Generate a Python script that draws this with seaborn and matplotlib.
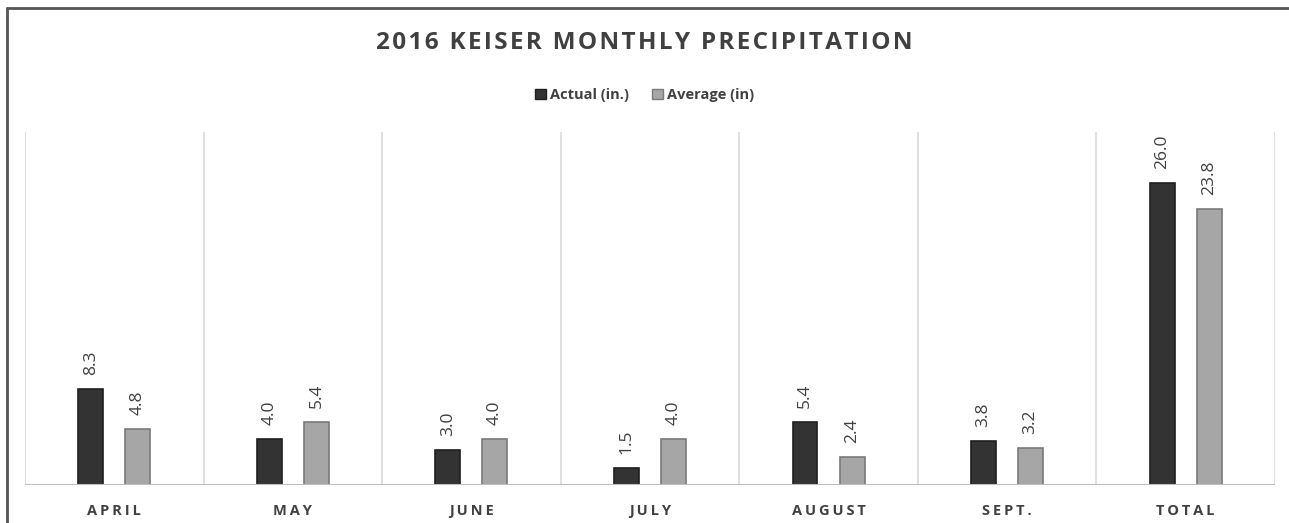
import pandas as pd
import matplotlib.pyplot as plt
import seaborn as sns
from matplotlib.lines import Line2D
from matplotlib.patches import Patch

months = ['APRIL', 'MAY', 'JUNE', 'JULY', 'AUGUST', 'SEPT.', 'TOTAL']
actual = [8.3, 4.0, 3.0, 1.5, 5.4, 3.8, 26.0]
average = [4.8, 5.4, 4.0, 4.0, 2.4, 3.2, 23.8]
series = ['Actual (in.)', 'Average (in)']

df = pd.DataFrame({
    'month': months * 2,
    'value': actual + average,
    'series': [series[0]] * len(months) + [series[1]] * len(months),
})

sns.set_style('white')
plt.rcParams['font.family'] = ['Open Sans', 'DejaVu Sans']

fig = plt.figure(figsize=(12.89, 5.23), dpi=100)
ax = fig.add_axes([0.0194, 0.0727, 0.9697, 0.675])

pal = {series[0]: '#333333', series[1]: '#a6a6a6'}
sns.barplot(data=df, x='month', y='value', hue='series', palette=pal,
            width=0.527, gap=0.47, ax=ax, legend=False, saturation=1)

edges = ['#1f1f1f', '#7a7a7a']
for cont, ec in zip(ax.containers, edges):
    for p in cont:
        p.set_edgecolor(ec)
        p.set_linewidth(1.2)
    ax.bar_label(cont, fmt='%.1f', rotation=90, padding=10,
                 fontsize=12.5, color='#404040')

ax.set_xlim(-0.5, len(months) - 0.5)
ax.set_ylim(0, 30.4)
ax.set_yticks([])
ax.set_xlabel('')
ax.set_ylabel('')

# category separators
for i in range(len(months) + 1):
    ax.axvline(i - 0.5, color='#d9d9d9', lw=1.2, zorder=0)
ax.axhline(0, color='#bfbfbf', lw=1.5, zorder=3)
for s in ax.spines.values():
    s.set_visible(False)

spaced = ['\u2009'.join(m) for m in months]
ax.set_xticks(range(len(months)))
ax.set_xticklabels(spaced, fontsize=10.5, fontweight='bold', color='#404040')
ax.tick_params(axis='x', length=0, pad=14)

title = '2016 KEISER MONTHLY PRECIPITATION'
fig.text(0.5, 0.918, '\u200a'.join(title), ha='center', va='center',
         fontsize=17.5, fontweight='bold', color='#404040')

handles = [Patch(facecolor='#333333', edgecolor='#1f1f1f'),
           Patch(facecolor='#a6a6a6', edgecolor='#7a7a7a')]
leg = fig.legend(handles, series, loc='center', bbox_to_anchor=(0.5, 0.818), ncol=2,
                 frameon=False, handlelength=0.75, handleheight=0.75, handletextpad=0.25,
                 columnspacing=1.6, prop={'size': 10.5, 'weight': 'bold'})
for t in leg.get_texts():
    t.set_color('#404040')

# outer frame (top and left edge)
fig.add_artist(Line2D([7 / 1289, 7 / 1289], [0, 1 - 8 / 523], color='#555555', lw=2,
                      transform=fig.transFigure))
fig.add_artist(Line2D([7 / 1289, 1], [1 - 8 / 523, 1 - 8 / 523], color='#555555', lw=2,
                      transform=fig.transFigure))

fig.savefig('out.png', dpi=100, facecolor='white')
